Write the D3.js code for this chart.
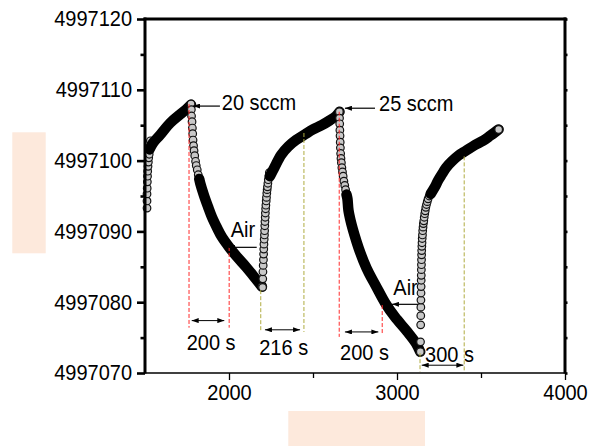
<!DOCTYPE html>
<html lang="en">
<head>
<meta charset="utf-8">
<title>Frequency shift vs time</title>
<script src="https://cdnjs.cloudflare.com/ajax/libs/d3/7.8.5/d3.min.js"></script>
<style>
    body { margin: 0; background: #fff; }
    svg { display: block; }
</style>
</head>
<body>
<div class="chart"></div>
<script>
// DATA -----------------------------------------------------
// fast steps: samples far enough apart to show as single circles
const step0Time = [1512, 1512, 1512, 1513, 1514, 1515, 1516, 1518, 1520, 1522, 1525, 1529, 1532];
const step0Freq = [4997093.3, 4997094.3, 4997095.3, 4997096.1, 4997097.0, 4997097.8, 4997098.5, 4997099.2, 4997099.8, 4997100.4, 4997100.9, 4997101.5, 4997102.8];

const drop1Time = [1774, 1776, 1777, 1780, 1782, 1784, 1786, 1789, 1792, 1796, 1801, 1805, 1811, 1817, 1823, 1829];
const drop1Freq = [4997108.0, 4997107.2, 4997106.3, 4997105.5, 4997104.6, 4997103.8, 4997102.9, 4997102.1, 4997101.4, 4997100.7, 4997099.9, 4997099.3, 4997098.7, 4997098.0, 4997097.4, 4997096.8];

const step2Time = [2200, 2201, 2202, 2203.5, 2205, 2206, 2207, 2208, 2209.5, 2211, 2212, 2213, 2214, 2215.5, 2216.5, 2218, 2219.5, 2221.5, 2223, 2225, 2227, 2229, 2231.5, 2234, 2237, 2240];
const step2Freq = [4997082.1, 4997083.3, 4997084.3, 4997085.2, 4997086.0, 4997086.8, 4997087.5, 4997088.2, 4997088.9, 4997089.5, 4997090.1, 4997090.8, 4997091.4, 4997092.0, 4997092.6, 4997093.2, 4997093.7, 4997094.3, 4997094.8, 4997095.4, 4997095.9, 4997096.3, 4997096.8, 4997097.3, 4997097.8, 4997098.3];

const drop2Time = [2657, 2658, 2659, 2660, 2661, 2662, 2663, 2664.5, 2666.5, 2669, 2672, 2675.5, 2679.5, 2684, 2689, 2694, 2699.5, 2705];
const drop2Freq = [4997106.9, 4997106.0, 4997105.2, 4997104.3, 4997103.5, 4997102.6, 4997101.8, 4997101.0, 4997100.3, 4997099.7, 4997099.0, 4997098.4, 4997097.8, 4997097.1, 4997096.5, 4997095.9, 4997095.2, 4997094.6];

const step3Time = [3139, 3140, 3141, 3141.5, 3142, 3142.5, 3143, 3143.5, 3144, 3144.5, 3145, 3145.5, 3146, 3146.5, 3147, 3148, 3149, 3150, 3151.5, 3153, 3155, 3157, 3159.5, 3162, 3165, 3168, 3171.5, 3175.5, 3180, 3185, 3191.5, 3200.5];
const step3Freq = [4997073.0, 4997074.4, 4997076.8, 4997078.1, 4997079.3, 4997080.3, 4997081.3, 4997082.2, 4997083.1, 4997083.8, 4997084.6, 4997085.3, 4997086.0, 4997086.7, 4997087.3, 4997087.9, 4997088.4, 4997089.0, 4997089.5, 4997090.1, 4997090.6, 4997091.1, 4997091.5, 4997092.0, 4997092.5, 4997092.9, 4997093.4, 4997093.8, 4997094.2, 4997094.6, 4997095.0, 4997095.3];

// slow drifts: samples so dense they merge into a black band
const trend1Time = [1527, 1548, 1589, 1649, 1708, 1744, 1774];
const trend1Freq = [4997101.6, 4997102.5, 4997103.6, 4997105.3, 4997106.5, 4997107.2, 4997107.9];

const fall1Time = [1823, 1829, 1851, 1875, 1899, 1929, 1958, 2000, 2048, 2101, 2149, 2196];
const fall1Freq = [4997097.4, 4997096.8, 4997095.1, 4997093.5, 4997092.0, 4997090.5, 4997089.2, 4997087.8, 4997086.4, 4997085.0, 4997083.6, 4997082.2];

const trend2Time = [2244, 2274, 2310, 2353, 2399, 2452, 2500, 2552, 2601, 2637, 2658];
const trend2Freq = [4997097.8, 4997099.2, 4997100.8, 4997102.0, 4997102.9, 4997103.7, 4997104.4, 4997105.0, 4997105.7, 4997106.3, 4997106.9];

const fall2Time = [2699.5, 2705, 2711, 2726, 2747, 2771, 2801, 2833, 2872, 2932, 2988, 3059, 3113, 3138];
const fall2Freq = [4997095.2, 4997094.6, 4997093.0, 4997091.3, 4997089.5, 4997087.7, 4997085.8, 4997084.1, 4997082.4, 4997079.8, 4997077.9, 4997075.9, 4997074.2, 4997073.0];

const trend3Time = [3200.5, 3226, 3247, 3268, 3292, 3327, 3365, 3411, 3464, 3512, 3554, 3583, 3605];
const trend3Freq = [4997095.3, 4997096.3, 4997097.3, 4997098.1, 4997099.0, 4997099.9, 4997100.7, 4997101.4, 4997102.2, 4997102.8, 4997103.5, 4997104.0, 4997104.4];

// axis ticks
const xMajor = [2000, 3000, 4000];
const xMinor = [2500, 3500];
const yMajor = [4997070, 4997080, 4997090, 4997100, 4997110, 4997120];
const yMinor = [4997075, 4997085, 4997095, 4997105, 4997115];

// dashed guide lines (time, top / bottom frequency)
const redGuideTime = [1762, 2001, 2656, 2912];
const redGuideTop = [4997108.0, 4997087.8, 4997106.9, 4997079.6];
const redGuideBottom = [4997076.4, 4997076.4, 4997075.1, 4997075.4];
const oliveGuideTime = [2189, 2446, 3137, 3400];
const oliveGuideTop = [4997081.7, 4997103.9, 4997072.8, 4997100.6];
const oliveGuideBottom = [4997075.8, 4997075.8, 4997070.2, 4997070.2];

// double arrows for durations
const spanStart = [1778, 2214, 2690, 3147];
const spanEnd = [1972, 2423, 2889, 3395];
const spanFreq = [4997077.4, 4997076.1, 4997075.8, 4997071.1];
const spanLabel = ["200 s", "216 s", "200 s", "300 s"];
const spanLabelTime = [1748, 2180, 2661, 3167];
const spanLabelFreq = [4997073.25, 4997072.5, 4997071.8, 4997071.6];

// pointer notes
const noteText = ["20 sccm", "25 sccm", "Air", "Air"];
const noteTime = [1957, 2893, 2010, 2978];
const noteFreq = [4997107.1, 4997107.05, 4997089.2, 4997081.0];
const arrowFrom = [1946, 2869, 2165, 3125];
const arrowTo = [1786, 2690, 1996, 2970];
const arrowFreq = [4997107.7, 4997107.4, 4997087.75, 4997079.7];

// CHART ----------------------------------------------------
const font = '"Liberation Sans", Arial, Helvetica, sans-serif';
const margin = {top: 19, right: 30, bottom: 73, left: 145};
const W = 595, H = 446;
const w = W - margin.left - margin.right;
const h = H - margin.top - margin.bottom;

const root = d3.select(".chart").append("svg")
    .attr("width", W)
    .attr("height", H)
    .attr("font-family", font);

// blanked axis titles
root.append("rect").attr("x", 12.3).attr("y", 132.3).attr("width", 33.4).attr("height", 121).attr("fill", "#fde9dc");
root.append("rect").attr("x", 288.3).attr("y", 411).attr("width", 136.7).attr("height", 35).attr("fill", "#fde9dc");

const svg = root.append("g")
    .attr("transform", `translate(${margin.left},${margin.top})`);

const x = d3.scaleLinear().domain([1500, 4000]).range([0, w]);
const y = d3.scaleLinear().domain([4997070, 4997120]).range([h, 0]);

const defs = svg.append("defs");
defs.append("marker")
    .attr("id", "head")
    .attr("viewBox", "0 0 7 5")
    .attr("refX", 7).attr("refY", 2.5)
    .attr("markerWidth", 7).attr("markerHeight", 5)
    .attr("markerUnits", "userSpaceOnUse")
    .attr("orient", "auto-start-reverse")
    .append("path").attr("d", "M0,0L7,2.5L0,5Z").attr("fill", "#000");

// data runs, in time order
const runs = [
    {time: step0Time, freq: step0Freq, dense: false},
    {time: trend1Time, freq: trend1Freq, dense: true},
    {time: drop1Time, freq: drop1Freq, dense: false},
    {time: fall1Time, freq: fall1Freq, dense: true},
    {time: step2Time, freq: step2Freq, dense: false},
    {time: trend2Time, freq: trend2Freq, dense: true},
    {time: drop2Time, freq: drop2Freq, dense: false},
    {time: fall2Time, freq: fall2Freq, dense: true},
    {time: step3Time, freq: step3Freq, dense: false},
    {time: trend3Time, freq: trend3Freq, dense: true}
];

const line = d3.line()
    .x(d => x(d[0]))
    .y(d => y(d[1]))
    .curve(d3.curveCatmullRom);

const dots = svg.append("g").attr("class", "data");
function drawDots(pts) {
    dots.append("g").selectAll("circle")
        .data(pts)
        .enter()
        .append("circle")
        .attr("cx", d => x(d[0]))
        .attr("cy", d => y(d[1]))
        .attr("r", 3.8)
        .attr("fill", "#c8c8c8")
        .attr("stroke", "#111")
        .attr("stroke-width", 1.2);
}
runs.forEach(run => {
    const pts = d3.zip(run.time, run.freq);
    if (run.dense) {
        dots.append("path")
            .datum(pts)
            .attr("d", line)
            .attr("fill", "none")
            .attr("stroke", "#000")
            .attr("stroke-width", 10.5)
            .attr("stroke-linecap", "round")
            .attr("stroke-linejoin", "round");
        drawDots([pts[pts.length - 1]]);
    } else {
        drawDots(pts);
    }
});

// axes
const yAxisMinor = d3.axisLeft(y).tickValues(yMinor).tickSize(4.5).tickFormat("");
const yAxisMajor = d3.axisLeft(y).tickValues(yMajor).tickSize(8).tickPadding(5).tickFormat(d3.format("d"));
const yAxisRight = d3.axisRight(y).tickValues(yMajor.concat(yMinor)).tickSize(2.5).tickFormat("");
const xAxisMinor = d3.axisBottom(x).tickValues(xMinor).tickSize(5).tickFormat("");
const xAxisMajor = d3.axisBottom(x).tickValues(xMajor).tickSize(7).tickPadding(4).tickFormat(d3.format("d"));

function styleAxis(g, width) {
    g.select(".domain").remove();
    g.attr("font-size", 20).attr("font-family", font);
    g.selectAll(".tick line").attr("stroke", "#000").attr("stroke-width", width);
    g.selectAll(".tick text").attr("fill", "#000").attr("transform", "scale(1,1.07)");
}

svg.append("g").attr("class", "axis y-axis").call(yAxisMinor).call(g => styleAxis(g, 2.6));
svg.append("g").attr("class", "axis y-axis").call(yAxisMajor).call(g => styleAxis(g, 2.6));
svg.append("g").attr("class", "axis y-right").attr("transform", `translate(${w},0)`)
    .call(yAxisRight).call(g => styleAxis(g, 2.6));
svg.append("g").attr("class", "axis x-axis").attr("transform", `translate(0,${h})`)
    .call(xAxisMinor).call(g => styleAxis(g, 1.3));
svg.append("g").attr("class", "axis x-axis").attr("transform", `translate(0,${h})`)
    .call(xAxisMajor).call(g => styleAxis(g, 1.3));

// frame
const frame = svg.append("g").attr("stroke", "#000");
frame.append("line").attr("x1", 0).attr("x2", w).attr("y1", h).attr("y2", h).attr("stroke-width", 1.3);
frame.append("line").attr("x1", -1.5).attr("x2", w + 1.5).attr("y1", 0).attr("y2", 0).attr("stroke-width", 3);
frame.append("line").attr("x1", 0).attr("x2", 0).attr("y1", -1.5).attr("y2", h + 0.6).attr("stroke-width", 3);
frame.append("line").attr("x1", w).attr("x2", w).attr("y1", -1.5).attr("y2", h + 0.6).attr("stroke-width", 3);

// guides
const guides = svg.append("g").attr("fill", "none").attr("stroke-width", 1).attr("stroke-dasharray", "4,2");
guides.selectAll(".red")
    .data(d3.zip(redGuideTime, redGuideTop, redGuideBottom))
    .enter().append("line").attr("class", "red")
    .attr("x1", d => x(d[0])).attr("x2", d => x(d[0]))
    .attr("y1", d => y(d[1])).attr("y2", d => y(d[2]))
    .attr("stroke", "#ff2a2a");
guides.selectAll(".olive")
    .data(d3.zip(oliveGuideTime, oliveGuideTop, oliveGuideBottom))
    .enter().append("line").attr("class", "olive")
    .attr("x1", d => x(d[0])).attr("x2", d => x(d[0]))
    .attr("y1", d => y(d[1])).attr("y2", d => y(d[2]))
    .attr("stroke", "#b0ac40");

// duration arrows and labels
const notes = svg.append("g").attr("font-size", 20).attr("fill", "#000");
notes.selectAll(".span")
    .data(d3.zip(spanStart, spanEnd, spanFreq))
    .enter().append("line").attr("class", "span")
    .attr("x1", d => x(d[0])).attr("x2", d => x(d[1]))
    .attr("y1", d => y(d[2])).attr("y2", d => y(d[2]))
    .attr("stroke", "#000").attr("stroke-width", 1)
    .attr("marker-start", "url(#head)").attr("marker-end", "url(#head)");
notes.selectAll(".span-label")
    .data(d3.zip(spanLabelTime, spanLabelFreq, spanLabel))
    .enter().append("text").attr("class", "span-label")
    .attr("transform", d => `translate(${x(d[0])},${y(d[1])}) scale(1,1.07)`)
    .text(d => d[2]);

// pointer arrows and notes
notes.selectAll(".pointer")
    .data(d3.zip(arrowFrom, arrowTo, arrowFreq))
    .enter().append("line").attr("class", "pointer")
    .attr("x1", d => x(d[0])).attr("x2", d => x(d[1]))
    .attr("y1", d => y(d[2])).attr("y2", d => y(d[2]))
    .attr("stroke", "#000").attr("stroke-width", 1.2)
    .attr("marker-end", "url(#head)");
notes.selectAll(".note")
    .data(d3.zip(noteTime, noteFreq, noteText))
    .enter().append("text").attr("class", "note")
    .attr("transform", d => `translate(${x(d[0])},${y(d[1])}) scale(1,1.07)`)
    .text(d => d[2]);
</script>
</body>
</html>
